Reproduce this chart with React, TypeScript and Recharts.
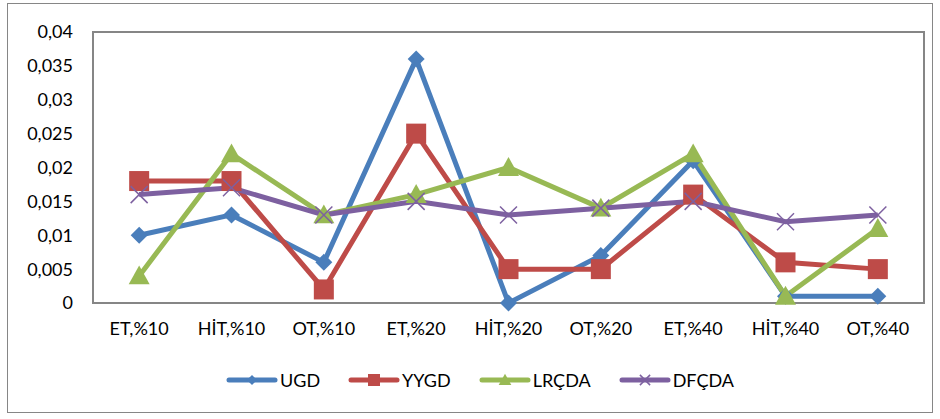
import React from "react";
import {
  LineChart,
  Line,
  XAxis,
  YAxis,
  Legend,
  ReferenceArea,
} from "recharts";

const categories = [
  "ET,%10",
  "HİT,%10",
  "OT,%10",
  "ET,%20",
  "HİT,%20",
  "OT,%20",
  "ET,%40",
  "HİT,%40",
  "OT,%40",
];

const ugd = [0.01, 0.013, 0.006, 0.036, 0.0, 0.007, 0.021, 0.001, 0.001];
const yygd = [0.018, 0.018, 0.002, 0.025, 0.005, 0.005, 0.016, 0.006, 0.005];
const lrcda = [0.004, 0.022, 0.013, 0.016, 0.02, 0.014, 0.022, 0.001, 0.011];
const dfcda = [0.016, 0.017, 0.013, 0.015, 0.013, 0.014, 0.015, 0.012, 0.013];

const yTicks = [0, 0.005, 0.01, 0.015, 0.02, 0.025, 0.03, 0.035, 0.04];

const data = categories.map((name, i) => ({
  name,
  UGD: ugd[i],
  YYGD: yygd[i],
  LRCDA: lrcda[i],
  DFCDA: dfcda[i],
}));

const FONT = "Lato, 'Open Sans', sans-serif";

const series = [
  { key: "UGD", label: "UGD", color: "#4A7EBB", shape: "diamond" },
  { key: "YYGD", label: "YYGD", color: "#BE4B48", shape: "square" },
  { key: "LRCDA", label: "LRÇDA", color: "#98B954", shape: "triangle" },
  { key: "DFCDA", label: "DFÇDA", color: "#7D60A0", shape: "cross" },
];

function Marker({ cx, cy, shape, color, s = 1 }: any) {
  if (cx == null || cy == null) return null;
  if (shape === "diamond") {
    const r = 8.5 * s;
    return (
      <polygon
        points={`${cx},${cy - r} ${cx + r},${cy} ${cx},${cy + r} ${cx - r},${cy}`}
        fill={color}
      />
    );
  }
  if (shape === "square") {
    const r = 10 * s;
    return <rect x={cx - r} y={cy - r} width={r * 2} height={r * 2} fill={color} />;
  }
  if (shape === "triangle") {
    const r = 10.5 * s;
    return (
      <polygon
        points={`${cx},${cy - r} ${cx + r},${cy + r * 0.8} ${cx - r},${cy + r * 0.8}`}
        fill={color}
      />
    );
  }
  const r = 8.5 * s;
  return (
    <g stroke={color} strokeWidth={1.5}>
      <line x1={cx - r} y1={cy - r} x2={cx + r} y2={cy + r} />
      <line x1={cx - r} y1={cy + r} x2={cx + r} y2={cy - r} />
    </g>
  );
}

function LegendContent() {
  return (
    <div
      style={{
        display: "flex",
        justifyContent: "center",
        gap: 28,
        fontFamily: FONT,
        fontSize: 18,
        color: "#000",
      }}
    >
      {series.map((s) => (
        <div key={s.key} style={{ display: "flex", alignItems: "center" }}>
          <svg width={52} height={16}>
            <line
              x1={3}
              y1={8}
              x2={49}
              y2={8}
              stroke={s.color}
              strokeWidth={5}
              strokeLinecap="round"
            />
            <Marker cx={26} cy={8} shape={s.shape} color={s.color} s={0.6} />
          </svg>
          <span style={{ marginLeft: 2 }}>{s.label}</span>
        </div>
      ))}
    </div>
  );
}

export default function App() {
  return (
    <div
      style={{
        position: "absolute",
        left: 0,
        top: 0,
        width: 940,
        height: 419,
        background: "#fff",
      }}
    >
      <div
        style={{
          position: "absolute",
          left: 7,
          top: 3,
          width: 926,
          height: 410,
          border: "1.5px solid #868686",
          boxSizing: "border-box",
        }}
      />
      <LineChart
        width={940}
        height={419}
        data={data}
        margin={{ top: 32, right: 16, left: 13, bottom: 64 }}
      >
        <ReferenceArea
          y1={0}
          y2={0.04}
          fill="none"
          stroke="#868686"
          strokeWidth={2}
          ifOverflow="visible"
        />
        <XAxis
          dataKey="name"
          scale="band"
          axisLine={false}
          tickLine={false}
          height={30}
          tick={{ fill: "#000", fontSize: 18, fontFamily: FONT }}
          tickMargin={13}
          interval={0}
        />
        <YAxis
          width={80}
          domain={[0, 0.04]}
          ticks={yTicks}
          axisLine={false}
          tickLine={false}
          tickMargin={14}
          tick={{ fill: "#000", fontSize: 18, fontFamily: FONT }}
          tickFormatter={(v: number) => String(v).replace(".", ",")}
        />
        {series.map((s) => (
          <Line
            key={s.key}
            dataKey={s.key}
            name={s.label}
            stroke={s.color}
            strokeWidth={5}
            isAnimationActive={false}
            dot={(p: any) => (
              <Marker key={`${s.key}-${p.index}`} cx={p.cx} cy={p.cy} shape={s.shape} color={s.color} />
            )}
            activeDot={false}
          />
        ))}
        <Legend
          content={<LegendContent />}
          wrapperStyle={{ position: "absolute", top: 369, left: 0, width: 960 }}
        />
      </LineChart>
    </div>
  );
}
